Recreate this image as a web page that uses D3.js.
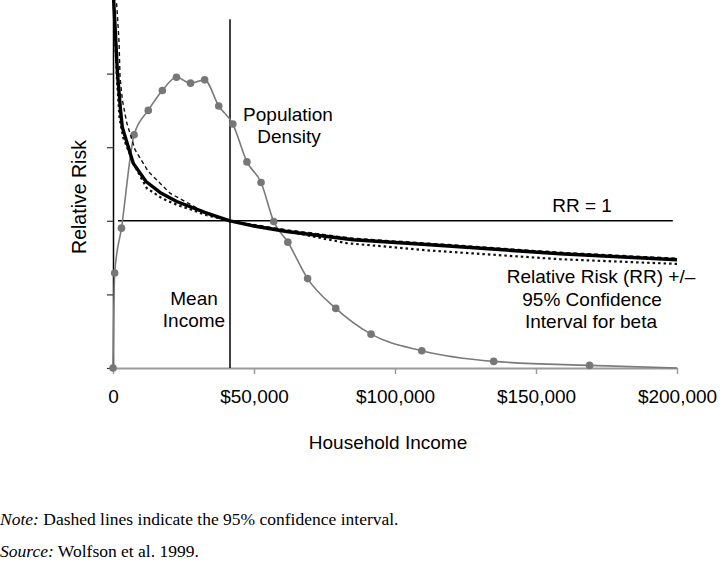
<!DOCTYPE html>
<html>
<head>
<meta charset="utf-8">
<script src="https://cdn.jsdelivr.net/npm/d3@7"></script>
<style>
    body { margin: 0; background: #fff; }
    svg { display: block; font-family: "Liberation Sans", Arial, sans-serif; }
    .note { font-family: "Liberation Serif", "Times New Roman", serif; font-size: 17.5px; }
</style>
</head>
<body>
<svg id="chart" width="720" height="565"></svg>
<script>
// Relative risk curve (household income in dollars, relative risk)
const rrIncome = [180, 1600, 2660, 3300, 7200, 11700, 16670, 22590, 33230, 41490, 50960, 61600, 85200, 112400, 158500, 200000];
const rrValue = [2.52, 2.0, 1.755, 1.635, 1.39, 1.267, 1.193, 1.131, 1.052, 1.0, 0.961, 0.927, 0.871, 0.837, 0.776, 0.735];

// Upper 95% confidence limit (dashed)
const ciHighIncome = [200, 1310, 2130, 2480, 3300, 4860, 7800, 12500, 16060, 20200, 30850, 41490, 61600, 85200, 112400, 158500, 200000];
const ciHighValue = [2.62, 2.47, 2.22, 1.98, 1.823, 1.667, 1.483, 1.335, 1.267, 1.188, 1.075, 1.0, 0.939, 0.881, 0.847, 0.786, 0.745];

// Lower 95% confidence limit (dotted)
const ciLowIncome = [210, 1420, 2300, 3650, 7800, 11950, 17270, 22590, 27910, 32620, 41490, 65140, 82870, 112400, 158500, 200000];
const ciLowValue = [2.5, 1.96, 1.70, 1.563, 1.369, 1.222, 1.154, 1.109, 1.075, 1.041, 1.0, 0.916, 0.848, 0.798, 0.739, 0.707];

// Population density (relative units, last point is the line end without a marker)
const densityIncome = [0, 600, 3000, 7500, 12500, 17500, 22500, 27500, 32500, 37500, 42500, 47500, 52500, 57000, 62000, 69000, 79000, 91500, 109500, 135000, 169000, 200000];
const densityValue = [0, 25.8, 38.0, 63.4, 70.0, 75.4, 79.0, 77.4, 78.3, 71.2, 66.3, 56.0, 50.4, 39.8, 34.2, 24.3, 16.2, 9.2, 4.7, 1.8, 0.7, 0];

// Axis ticks and reference values
const xTicks = [0, 50000, 100000, 150000, 200000];
const xTickLabels = ["0", "$50,000", "$100,000", "$150,000", "$200,000"];
const yTicks = [0, 0.5, 1, 1.5, 2];
const meanIncome = 41490;
const rrOneStart = 1800;
const rrOneEnd = 198500;

const svg = d3.select("#chart");
const margin = { top: 0, left: 113 };
const plotW = 564, plotH = 368;

const x = d3.scaleLinear().domain([0, 200000]).range([margin.left, margin.left + plotW]);
const y = d3.scaleLinear().domain([0, 2.5]).range([plotH, margin.top]);
const yDensity = d3.scaleLinear().domain([0, 100]).range([plotH, margin.top]);

svg.append("rect").attr("width", 720).attr("height", 565).attr("fill", "#fff");

svg.append("clipPath").attr("id", "plot-clip")
    .append("rect").attr("x", 0).attr("y", 0).attr("width", 720).attr("height", plotH + 4);

// X axis: grey line and ticks, black labels
const xAxis = svg.append("g")
    .attr("transform", `translate(0,${plotH})`)
    .call(d3.axisBottom(x).tickValues(xTicks).tickSize(6).tickSizeOuter(0).tickPadding(16)
        .tickFormat((d, i) => xTickLabels[i]));
xAxis.select(".domain").attr("stroke", "#9a9a9a").attr("stroke-width", 2);
xAxis.selectAll(".tick line").attr("stroke", "#9a9a9a").attr("stroke-width", 1.5);
xAxis.selectAll(".tick text").attr("fill", "#000").style("font-size", "19px")
    .style("font-family", "Liberation Sans, Arial, sans-serif");

// Y axis: black line, ticks only
const yAxis = svg.append("g")
    .attr("transform", `translate(${margin.left},0)`)
    .call(d3.axisLeft(y).tickValues(yTicks).tickSize(6).tickSizeOuter(0).tickFormat(""));
yAxis.select(".domain").attr("stroke", "#000").attr("stroke-width", 1.5);
yAxis.selectAll(".tick line").attr("stroke", "#333").attr("stroke-width", 1.2);

// RR = 1 reference line
svg.append("line")
    .attr("x1", x(rrOneStart)).attr("x2", x(rrOneEnd))
    .attr("y1", y(1)).attr("y2", y(1))
    .attr("stroke", "#000").attr("stroke-width", 1.5);

// Mean income vertical line
svg.append("line")
    .attr("x1", x(meanIncome)).attr("x2", x(meanIncome))
    .attr("y1", y(2.37)).attr("y2", y(0))
    .attr("stroke", "#000").attr("stroke-width", 1.5);

// Population density curve with markers
const densityLine = d3.line()
    .x(d => x(d[0]))
    .y(d => yDensity(d[1]))
    .curve(d3.curveMonotoneX);
const densityPts = densityIncome.map((v, i) => [v, densityValue[i]]);

svg.append("path")
    .datum(densityPts)
    .attr("d", densityLine)
    .attr("fill", "none")
    .attr("stroke", "#7a7a7a")
    .attr("stroke-width", 1.6);

svg.append("g").selectAll("circle")
    .data(densityPts.slice(0, -1))
    .enter()
    .append("circle")
    .attr("cx", d => x(d[0]))
    .attr("cy", d => yDensity(d[1]))
    .attr("r", 3.8)
    .attr("fill", "#777");

// Relative risk and confidence limits
const rrLine = d3.line().x(d => x(d[0])).y(d => y(d[1]));
const curves = svg.append("g").attr("clip-path", "url(#plot-clip)");

curves.append("path")
    .datum(ciHighIncome.map((v, i) => [v, ciHighValue[i]]))
    .attr("d", rrLine)
    .attr("fill", "none").attr("stroke", "#111")
    .attr("stroke-width", 1.4).attr("stroke-dasharray", "4,3");

curves.append("path")
    .datum(ciLowIncome.map((v, i) => [v, ciLowValue[i]]))
    .attr("d", rrLine)
    .attr("fill", "none").attr("stroke", "#111")
    .attr("stroke-width", 2.2).attr("stroke-dasharray", "2.5,3");

curves.append("path")
    .datum(rrIncome.map((v, i) => [v, rrValue[i]]))
    .attr("d", rrLine)
    .attr("fill", "none").attr("stroke", "#000")
    .attr("stroke-width", 3.4).attr("stroke-linejoin", "round");

// Annotations
const annotations = [
    { text: "Population", x: 288, y: 121 },
    { text: "Density", x: 289, y: 143 },
    { text: "Mean", x: 194, y: 305 },
    { text: "Income", x: 194, y: 327 },
    { text: "RR = 1", x: 582, y: 212 },
    { text: "Relative Risk (RR) +/\u2013", x: 601, y: 283 },
    { text: "95% Confidence", x: 592, y: 306 },
    { text: "Interval for beta", x: 591, y: 328 }
];
svg.append("g").selectAll("text")
    .data(annotations)
    .enter()
    .append("text")
    .attr("x", d => d.x)
    .attr("y", d => d.y)
    .attr("text-anchor", "middle")
    .style("font-size", "19px")
    .text(d => d.text);

// Axis titles
svg.append("text")
    .attr("transform", "translate(86,197) rotate(-90)")
    .attr("text-anchor", "middle")
    .style("font-size", "19.5px")
    .text("Relative Risk");

svg.append("text")
    .attr("x", 388).attr("y", 449)
    .attr("text-anchor", "middle")
    .style("font-size", "19px")
    .text("Household Income");

// Note and source
const note = svg.append("text").attr("class", "note").attr("x", 0).attr("y", 525);
note.append("tspan").style("font-style", "italic").text("Note:");
note.append("tspan").text(" Dashed lines indicate the 95% confidence interval.");

const source = svg.append("text").attr("class", "note").attr("x", 0).attr("y", 557);
source.append("tspan").style("font-style", "italic").text("Source:");
source.append("tspan").text(" Wolfson et al. 1999.");
</script>
</body>
</html>
